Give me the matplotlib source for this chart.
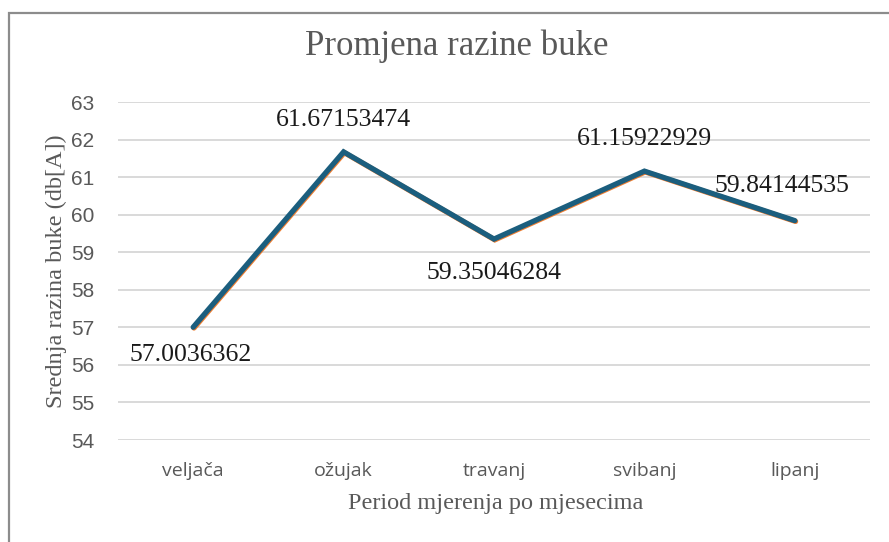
import matplotlib
matplotlib.use("Agg")
import matplotlib.pyplot as plt
import matplotlib.transforms as mtransforms
from matplotlib.patches import Rectangle

months = ["veljača", "ožujak", "travanj", "svibanj", "lipanj"]
noise = [57.0036362, 61.67153474, 59.35046284, 61.15922929, 59.84144535]
yticks = [54, 55, 56, 57, 58, 59, 60, 61, 62, 63]
label_offsets = [(-3, -28), (0, 32), (0, -34), (0, 32), (-13, 35)]  # px offsets of data labels

W, H = 889, 542
fig = plt.figure(figsize=(W / 100, H / 100), dpi=100)
fig.patch.set_facecolor("white")

# chart frame (left and top visible)
fig.add_artist(Rectangle((8.5 / W, -0.1), 1.2, 1.1 - 12.5 / H, transform=fig.transFigure,
                         fill=False, edgecolor="#8c8c8c", linewidth=1.6))

ax = fig.add_axes([118 / W, (H - 440) / H, (870 - 118) / W, (440 - 102) / H])
x = list(range(len(months)))

ax.set_xlim(-0.5, len(months) - 0.5)
ax.set_ylim(54, 63)
ax.set_yticks(yticks)
ax.grid(axis="y", color="#d9d9d9", linewidth=1.4)
ax.set_axisbelow(True)
for s in ax.spines.values():
    s.set_visible(False)
ax.tick_params(length=0)
ax.tick_params(axis="y", pad=17)
ax.tick_params(axis="x", pad=16)
ax.set_xticks(x)
ax.set_xticklabels(months, fontfamily="Open Sans", fontsize=14, color="#595959")
for t in ax.get_yticklabels():
    t.set_fontfamily("Liberation Sans")
    t.set_fontsize(15)
    t.set_color("#595959")

off = mtransforms.offset_copy(ax.transData, fig=fig, x=0.8, y=-0.8, units="dots")
ax.plot(x, noise, color="#ed7d31", linewidth=3.8, transform=off, solid_capstyle="round",
        solid_joinstyle="miter", zorder=3)
ax.plot(x, noise, color="#1b5e7e", linewidth=3.8, solid_capstyle="round",
        solid_joinstyle="miter", zorder=4)

for xi, yi, (dx, dy) in zip(x, noise, label_offsets):
    ax.annotate(f"{yi}", (xi, yi), xytext=(dx * 0.72, dy * 0.72), textcoords="offset points",
                ha="center", va="center", fontfamily="Liberation Serif", fontsize=18.5,
                color="#1a1a1a", zorder=5)

fig.text(457 / W, 1 - 46 / H, "Promjena razine buke", ha="center", va="center",
         fontfamily="Liberation Serif", fontsize=25, color="#595959")
fig.text(496 / W, 1 - 504 / H, "Period mjerenja po mjesecima", ha="center", va="center",
         fontfamily="Liberation Serif", fontsize=17.5, color="#595959")
fig.text(56 / W, 1 - 271 / H, "Srednja razina buke (db[A])", ha="center", va="center",
         rotation=90, fontfamily="Liberation Serif", fontsize=17.5, color="#595959")

fig.savefig("out.png", dpi=100)
